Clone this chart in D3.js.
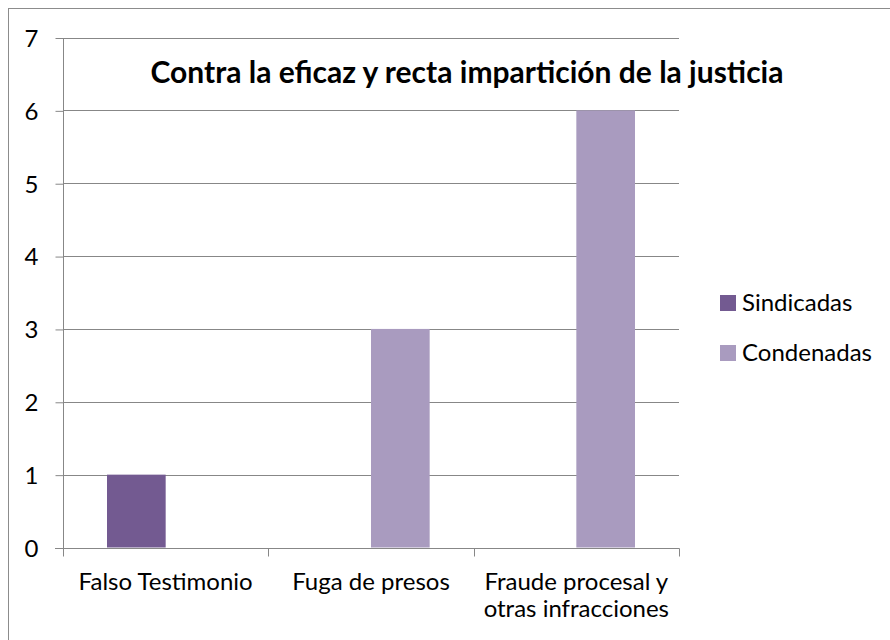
<!DOCTYPE html>
<html>
<head>
<meta charset="utf-8">
<script src="https://cdn.jsdelivr.net/npm/d3@7"></script>
<style>
  body { margin: 0; background: #fff; }
  text { font-family: Lato, "Open Sans", sans-serif; fill: #000; }
</style>
</head>
<body>
<script>
// datos del gráfico
const categorias = ["Falso Testimonio", "Fuga de presos", "Fraude procesal y|otras infracciones"];
const series = ["Sindicadas", "Condenadas"];
const sindicadas = [1, 0, 0];
const condenadas = [0, 3, 6];
const yTicks = [0, 1, 2, 3, 4, 5, 6, 7];
const titulo = "Contra la eficaz y recta impartición de la justicia";

const colores = { "Sindicadas": "#735a91", "Condenadas": "#a99bbf" };
const valores = { "Sindicadas": sindicadas, "Condenadas": condenadas };

const W = 890, H = 640;
const plot = { left: 63, right: 679, top: 37.5, bottom: 547.5 };
const fuente = 24;

const svg = d3.select("body").append("svg").attr("width", W).attr("height", H);

// marco del área del gráfico
svg.append("rect")
    .attr("x", 8.5).attr("y", 8.5)
    .attr("width", 920).attr("height", 700)
    .attr("fill", "#fff").attr("stroke", "#8c8c8c");

const x0 = d3.scaleBand().domain(categorias).range([plot.left, plot.right]).padding(0);
const x1 = d3.scaleBand().domain(series).range([0, x0.bandwidth()]).paddingInner(0).paddingOuter(0.75);
const y = d3.scaleLinear().domain([0, 7]).range([plot.bottom, plot.top]);

// líneas de división
svg.append("g")
    .selectAll("line")
    .data(yTicks.filter(d => d > 0))
    .join("line")
    .attr("x1", plot.left).attr("x2", plot.right)
    .attr("y1", d => Math.round(y(d)) + 0.5).attr("y2", d => Math.round(y(d)) + 0.5)
    .attr("stroke", "#878787");

// barras
const filas = [];
categorias.forEach((c, i) => {
    series.forEach(s => filas.push({ cat: c, serie: s, valor: valores[s][i] }));
});
svg.append("g")
    .selectAll("rect")
    .data(filas.filter(d => d.valor > 0))
    .join("rect")
    .attr("x", d => x0(d.cat) + x1(d.serie))
    .attr("width", x1.bandwidth())
    .attr("y", d => y(d.valor))
    .attr("height", d => y(0) - y(d.valor))
    .attr("fill", d => colores[d.serie]);

// eje Y
const ejeY = svg.append("g")
    .attr("transform", "translate(" + (plot.left + 0.5) + ",0.5)")
    .call(d3.axisLeft(y).tickValues(yTicks).tickSize(8).tickPadding(17).tickFormat(d3.format("d")));
ejeY.select(".domain").attr("stroke", "#878787").attr("d", "M0," + Math.round(plot.top) + "V" + Math.round(plot.bottom));
ejeY.selectAll(".tick line").attr("stroke", "#878787");
ejeY.selectAll(".tick text")
    .attr("font-family", "Lato, 'Open Sans', sans-serif")
    .attr("font-size", fuente).attr("fill", "#000").attr("dy", "0.35em");

// eje X
const ejeX = svg.append("g")
    .attr("transform", "translate(0," + (Math.round(plot.bottom) + 0.5) + ")");
ejeX.append("line")
    .attr("x1", plot.left - 8).attr("x2", plot.right + 0.5)
    .attr("stroke", "#878787");
ejeX.selectAll(".tk")
    .data(categorias.concat(["fin"]))
    .join("line")
    .attr("class", "tk")
    .attr("x1", (d, i) => Math.round(plot.left + i * x0.step()) + 0.5)
    .attr("x2", (d, i) => Math.round(plot.left + i * x0.step()) + 0.5)
    .attr("y1", 0).attr("y2", 8)
    .attr("stroke", "#878787");

const etiquetas = svg.append("g")
    .selectAll("text")
    .data(categorias)
    .join("text")
    .attr("x", d => x0(d) + x0.bandwidth() / 2)
    .attr("y", 590)
    .attr("text-anchor", "middle")
    .attr("font-size", fuente);
etiquetas.each(function (d) {
    d.split("|").forEach((linea, i) => {
        d3.select(this).append("tspan")
            .attr("x", x0(d) + x0.bandwidth() / 2)
            .attr("dy", i === 0 ? 0 : 27)
            .text(linea);
    });
});

// título
svg.append("text")
    .attr("x", 467).attr("y", 83)
    .attr("text-anchor", "middle")
    .attr("font-size", 30).attr("font-weight", "bold")
    .text(titulo);

// leyenda
const leyenda = svg.append("g")
    .selectAll("g")
    .data(series)
    .join("g")
    .attr("transform", (d, i) => "translate(720," + (295 + i * 50) + ")");
leyenda.append("rect")
    .attr("width", 16).attr("height", 16)
    .attr("fill", d => colores[d]);
leyenda.append("text")
    .attr("x", 22).attr("y", 16)
    .attr("font-size", fuente)
    .text(d => d);
</script>
</body>
</html>
